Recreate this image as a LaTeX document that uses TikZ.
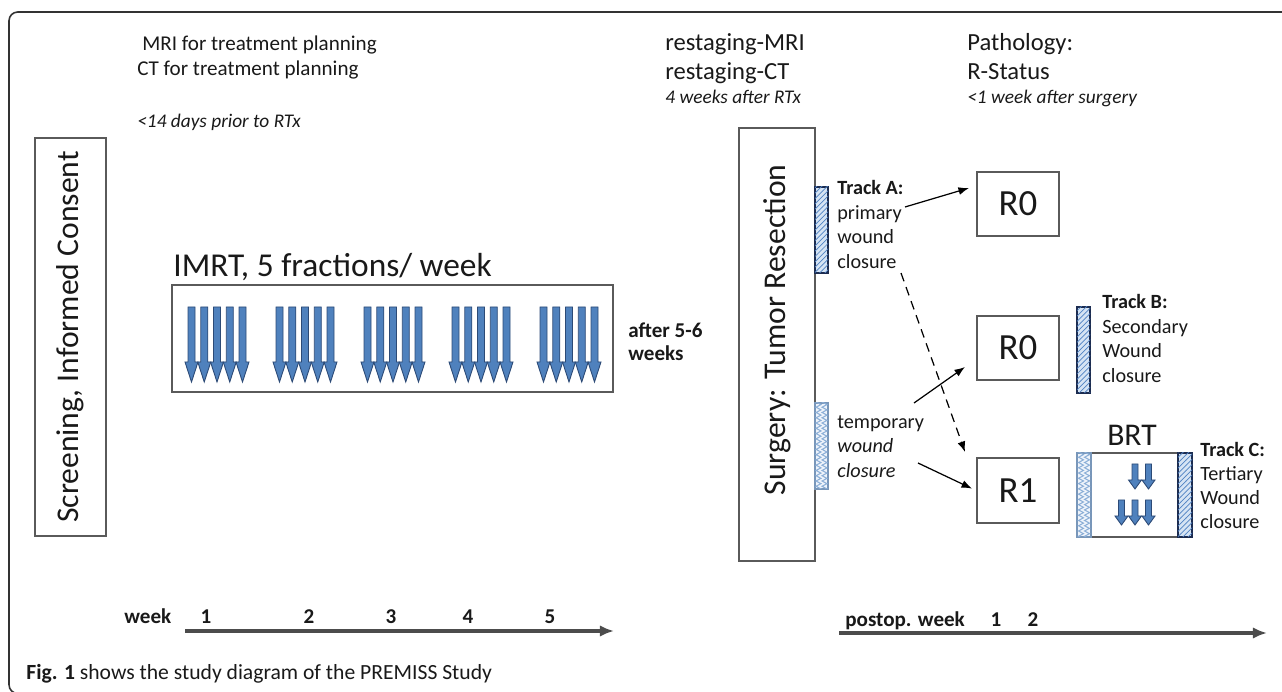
\documentclass[tikz,border=0pt]{standalone}
\usepackage{fontspec}
\setmainfont{Carlito}
\usetikzlibrary{fit,patterns,arrows.meta,decorations.pathmorphing}
\definecolor{arrblue}{RGB}{79,129,189}
\definecolor{arrdark}{RGB}{44,74,118}
\definecolor{hatchfill}{RGB}{214,228,244}
\definecolor{hatchline}{RGB}{80,130,195}
\definecolor{bardark}{RGB}{28,44,80}
\definecolor{wavyline}{RGB}{140,175,215}
\definecolor{wavyedge}{RGB}{120,150,185}
\definecolor{txtc}{RGB}{25,25,25}
\definecolor{boxgray}{RGB}{90,90,90}
\tikzset{
  every node/.style={inner sep=0pt, text=txtc},
  box/.style={draw=boxgray, line width=1.1pt, inner sep=0pt},
  hbar/.style={draw=bardark, line width=1pt, inner sep=0pt, fill=hatchfill,
    postaction={pattern=north east lines, pattern color=hatchline}},
  wbar/.style={draw=wavyedge, line width=0.8pt, inner sep=0pt, fill=hatchfill!40},
  wav/.style={draw=wavyline, line width=0.6pt, decorate,
    decoration={zigzag, segment length=3pt, amplitude=1.4pt}},
  arrowst/.style={fill=arrblue, draw=arrdark, line width=0.5pt, line join=miter},
  pics/darr/.style n args={4}{code={
    \filldraw[arrowst] (-#2/2,0) -- (#2/2,0) -- (#2/2,#1-#4) -- (#3/2,#1-#4)
      -- (0,#1) -- (-#3/2,#1-#4) -- (-#2/2,#1-#4) -- cycle;}},
  fsmall/.style={font=\fontsize{12pt}{14pt}\selectfont, anchor=base west},
  fsmalli/.style={font=\fontsize{11pt}{13pt}\selectfont\itshape, anchor=base west},
  fmid/.style={font=\fontsize{14pt}{16pt}\selectfont, anchor=base west},
  ftrack/.style={font=\fontsize{11.5pt}{13.5pt}\selectfont, anchor=base west},
  ftrackb/.style={font=\fontsize{11.5pt}{13.5pt}\selectfont\bfseries, anchor=base west},
  ftracki/.style={font=\fontsize{11.5pt}{13.5pt}\selectfont\itshape, anchor=base west},
  fbig/.style={font=\fontsize{18pt}{21pt}\selectfont},
  fR/.style={font=\fontsize{21pt}{24pt}\selectfont},
  fbold/.style={font=\fontsize{12pt}{14pt}\selectfont\bfseries, anchor=base west},
  fnum/.style={font=\fontsize{12pt}{14pt}\selectfont\bfseries, anchor=base},
  conn/.style={draw=black, line width=0.7pt, -{Latex[length=6pt,width=4.5pt]}},
  dconn/.style={conn, dash pattern=on 5pt off 3.5pt},
  tline/.style={draw=black!70, line width=1.8pt, -{Latex[length=8pt,width=6.5pt]}},
}
\begin{document}
\begin{tikzpicture}[x=0.02cm,y=-0.02cm]
\useasboundingbox (0,0) rectangle (1282,692);
% frame
\draw[black!80, line width=0.9pt, rounded corners=5pt] (1300,12) -- (9,12) -- (9,693.5) -- (1300,693.5);

% top-left texts
\node[fsmall] (mri) at (142,51) {MRI for treatment planning};
\node[fsmall] (ct) at (137,76) {CT for treatment planning};
\node[fsmalli] (d14) at (137,128) {<14 days prior to RTx};

% screening
\node[box, fit={(35,138) (106,536)}] (screen) {};
\node[fbig, rotate=90] (screentxt) at (screen.center) {Screening, Informed Consent};

% IMRT
\node[font=\fontsize{19pt}{22pt}\selectfont, anchor=west] (imrtlbl) at (173,267) {IMRT, 5 fractions/ week};
\node[box, fit={(172,285) (613,392)}] (imrt) {};
\foreach \g in {185,273,361,449,537}
  \foreach \k in {0,...,4}
    \pic at ({\g+6.5+\k*12.75},307) {darr={75}{7}{13}{20}};

\node[fbold] (after) at (628,338) {after 5-6};
\node[fbold] (weeks) at (628,361) {weeks};

% restaging
\node[fmid] (rmri) at (665,51) {restaging-MRI};
\node[fmid] (rct) at (665,80) {restaging-CT};
\node[fsmalli] (r4w) at (665,104) {4 weeks after RTx};

% pathology
\node[fmid] (path) at (967,51) {Pathology:};
\node[fmid] (rstat) at (967,80) {R-Status};
\node[fsmalli] (p1w) at (967,104) {<1 week after surgery};

% surgery
\node[box, fit={(739,128) (815,561)}] (surg) {};
\node[fbig, rotate=90] (surgtxt) at (777,330) {Surgery: Tumor Resection};

% Track A bar and text
\node[hbar, fit={(815,187) (828,273)}] (barA) {};
\node[ftrackb] (tA1) at (837,195) {Track A:};
\node[ftrack] (tA2) at (837,219.5) {primary};
\node[ftrack] (tA3) at (837,244) {wound};
\node[ftrack] (tA4) at (837,268.5) {closure};

% temporary bar and text
\node[wbar, fit={(815,403) (828,489)}] (barT) {};
\begin{scope}
  \clip (815,403) rectangle (828,489);
  \draw[wav] (818.5,398) -- (818.5,494);
  \draw[wav] (824.5,398) -- (824.5,494);
\end{scope}
\node[ftrack] (tT1) at (837,429) {temporary};
\node[ftracki] (tT2) at (837,453) {wound};
\node[ftracki] (tT3) at (837,478) {closure};

% R boxes
\node[box, fit={(977,172) (1059,236)}] (r0a) {};
\node[fR] at (r0a.center) {R0};
\node[box, fit={(977,316) (1059,380)}] (r0b) {};
\node[fR] at (r0b.center) {R0};
\node[box, fit={(977,458) (1059,523)}] (r1) {};
\node[fR] at (r1.center) {R1};

% Track B
\node[hbar, fit={(1077,307) (1090,393)}] (barB) {};
\node[ftrackb] (tB1) at (1102,309) {Track B:};
\node[ftrack] (tB2) at (1102,334) {Secondary};
\node[ftrack] (tB3) at (1102,358) {Wound};
\node[ftrack] (tB4) at (1102,383) {closure};

% BRT
\node[fbig] (brtlbl) at (1132,435) {BRT};
\node[box, fit={(1077,453) (1192,537)}] (brt) {};
\node[wbar, fit={(1077,453) (1091,537)}] (barC1) {};
\begin{scope}
  \clip (1077,453) rectangle (1091,537);
  \draw[wav] (1081,448) -- (1081,542);
  \draw[wav] (1087,448) -- (1087,542);
\end{scope}
\node[hbar, fit={(1178,453) (1192,537)}] (barC2) {};
\foreach \cx in {1135,1148.5}
  \pic at (\cx,464) {darr={25}{6}{13}{9}};
\foreach \cx in {1121.5,1135,1148.5}
  \pic at (\cx,500) {darr={25}{6}{13}{9}};

\node[ftrackb] (tC1) at (1200,457) {Track C:};
\node[ftrack] (tC2) at (1200,481) {Tertiary};
\node[ftrack] (tC3) at (1200,505) {Wound};
\node[ftrack] (tC4) at (1200,529) {closure};

% connectors
\coordinate (a1s) at (905,207);
\coordinate (a1e) at (969,188);
\draw[conn] (a1s) -- (a1e);
\coordinate (d1s) at (901,273);
\coordinate (d1e) at (965,452);
\draw[dconn] (d1s) -- (d1e);
\coordinate (a2s) at (914,403);
\coordinate (a2e) at (965,367);
\draw[conn] (a2s) -- (a2e);
\coordinate (a3s) at (918,463);
\draw[conn, shorten >=2.5pt] (a3s) -- (r1.west);

% week timeline
\node[fbold] (wk) at (124,623) {week};
\node[fnum] (w1) at (206,623) {1};
\node[fnum] (w2) at (309,623) {2};
\node[fnum] (w3) at (391,623) {3};
\node[fnum] (w4) at (468,623) {4};
\node[fnum] (w5) at (550,623) {5};
\coordinate (t1s) at (185,631);
\coordinate (t1e) at (614,631);
\draw[tline] (t1s) -- (t1e);

% postop timeline
\node[fbold] (pw) at (845,626) {postop. week};
\node[fnum] (p1) at (996,626) {1};
\node[fnum] (p2) at (1033,626) {2};
\coordinate (t2s) at (839,633);
\coordinate (t2e) at (1267,633);
\draw[tline] (t2s) -- (t2e);

% caption
\node[font=\fontsize{12.3pt}{14pt}\selectfont, anchor=base west] (cap) at (26,679)
  {\textbf{Fig. 1} shows the study diagram of the PREMISS Study};
\end{tikzpicture}
\end{document}
